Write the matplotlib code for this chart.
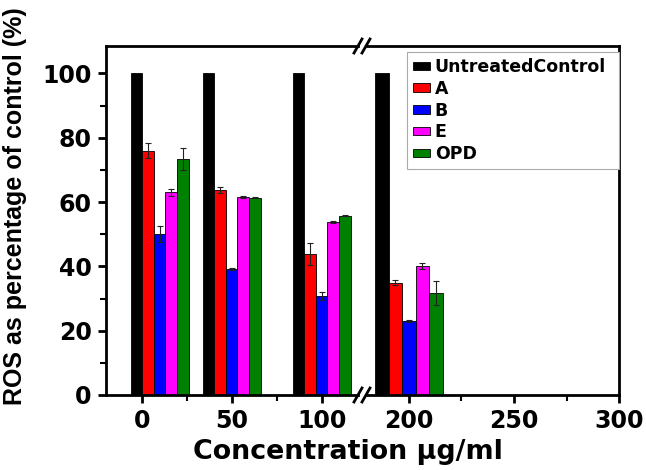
import numpy as np
import matplotlib
matplotlib.use('Agg')
import matplotlib.pyplot as plt
from matplotlib.ticker import FixedLocator

# Datos
conc_pos = [10, 50, 100, 200]          # centro de cada grupo en el eje x
series = ['UntreatedControl', 'A', 'B', 'E', 'OPD']
colors = ['#000000', '#ff0000', '#0000ff', '#ff00ff', '#008000']
control = [100, 100, 100, 100]
val_A = [76.0, 63.7, 43.8, 34.9]
val_B = [50.0, 39.2, 30.7, 23.0]
val_E = [63.0, 61.5, 53.7, 40.1]
val_OPD = [73.5, 61.3, 55.7, 31.6]
err_ctrl = [0, 0, 0, 0]
err_A = [2.2, 1.0, 3.3, 0.8]
err_B = [2.5, 0.3, 1.2, 0.3]
err_E = [1.0, 0.3, 0.3, 0.8]
err_OPD = [3.4, 0.2, 0.2, 3.7]

values = [control, val_A, val_B, val_E, val_OPD]
errors = [err_ctrl, err_A, err_B, err_E, err_OPD]

bar_w = 6.4
font = 'DejaVu Sans'

fig = plt.figure(figsize=(6.46, 4.70), dpi=100)
W, H = 646, 470
bot = (H - 395) / H
hgt = 349 / H
ax1 = fig.add_axes([105.7 / W, bot, 252.0 / W, hgt])
ax2 = fig.add_axes([366.8 / W, bot, 252.5 / W, hgt])

handles = []
for ax in (ax1, ax2):
    for i in range(len(series)):
        xs = np.array(conc_pos) + (i - 2) * bar_w
        b = ax.bar(xs, values[i], width=bar_w, color=colors[i],
                   edgecolor='black', linewidth=0.6, label=series[i])
        if i > 0:
            ax.errorbar(xs, values[i], yerr=errors[i], fmt='none',
                        ecolor='#222222', elinewidth=0.8, capsize=2.5, capthick=0.8)
        if ax is ax2:
            handles.append(b)
    ax.set_ylim(0, 108.5)
    for s in ax.spines.values():
        s.set_linewidth(2)
    ax.tick_params(axis='both', which='major', direction='out', length=6, width=2,
                   labelsize=17, pad=4)
    ax.tick_params(axis='both', which='minor', direction='out', length=4, width=1.5)

ax1.set_xlim(-20, 120)
ax2.set_xlim(180, 300)
ax1.xaxis.set_major_locator(FixedLocator([0, 50, 100]))
ax1.xaxis.set_minor_locator(FixedLocator([25, 75]))
ax2.xaxis.set_major_locator(FixedLocator([200, 250, 300]))
ax2.xaxis.set_minor_locator(FixedLocator([225, 275]))
ax1.yaxis.set_major_locator(FixedLocator([0, 20, 40, 60, 80, 100]))
ax1.yaxis.set_minor_locator(FixedLocator([10, 30, 50, 70, 90]))

ax1.spines['right'].set_visible(False)
ax2.spines['left'].set_visible(False)
ax2.tick_params(axis='y', which='both', left=False, labelleft=False)

for ax in (ax1, ax2):
    for lab in ax.get_xticklabels() + ax.get_yticklabels():
        lab.set_fontfamily(font)
        lab.set_fontweight('bold')

# marcas de corte "//"
for cy in (46, 395):
    for dx in (-4, 4):
        cx = 362 + dx
        fig.add_artist(plt.Line2D([(cx - 4) / W, (cx + 4) / W],
                                  [(H - cy - 7) / H, (H - cy + 7) / H],
                                  color='black', linewidth=2))

leg = ax2.legend(handles=handles, labels=series, loc='upper left',
                 bbox_to_anchor=(0.159, 0, 0.841, 0.983), mode='expand',
                 prop={'family': font, 'weight': 'bold', 'size': 12.5},
                 handlelength=0.95, handleheight=0.35, handletextpad=0.3,
                 labelspacing=0.22, borderaxespad=0, borderpad=0.35,
                 fancybox=False, framealpha=1)
leg.get_frame().set_edgecolor('#aaaaaa')
leg.get_frame().set_linewidth(0.8)

fig.text(348 / W, (H - 459) / H, 'Concentration \u03bcg/ml', ha='center', va='baseline',
         fontsize=19.4, fontweight='bold', family=font)
fig.text(15 / W, (H - 206) / H, 'ROS as percentage of control (%)', rotation=90,
         ha='center', va='center', fontsize=18, fontweight='bold', family='Liberation Sans')

fig.savefig('out.png', dpi=100)
